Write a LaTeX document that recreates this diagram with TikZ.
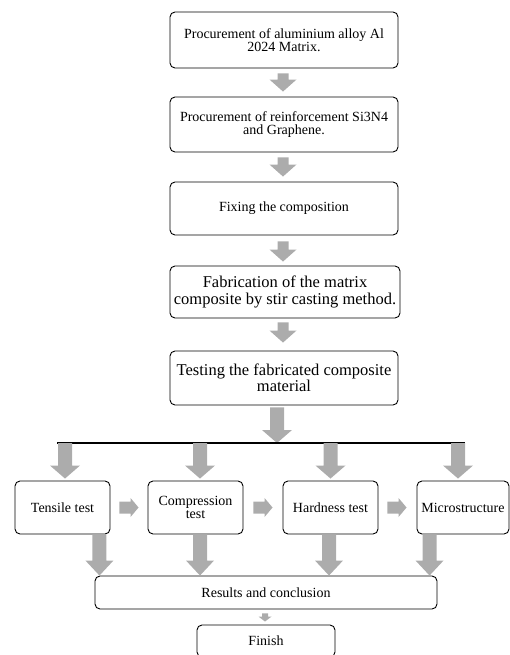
\documentclass[tikz,border=0pt]{standalone}
\usepackage{fontspec}
\setmainfont{Liberation Serif}
\usetikzlibrary{calc}
\definecolor{arrfill}{RGB}{172,172,172}
\newcommand\varr[5]{\fill[arrfill] let \p1=#1, \p2=#2 in
  (\x1-#3pt,\y1) -- (\x1+#3pt,\y1) -- (\x1+#3pt,\y2+#5pt) -- (\x1+#4pt,\y2+#5pt)
  -- (\x1,\y2) -- (\x1-#4pt,\y2+#5pt) -- (\x1-#3pt,\y2+#5pt) -- cycle;}
\newcommand\harr[5]{\fill[arrfill] let \p1=#1, \p2=#2 in
  (\x1,\y1+#3pt) -- (\x1,\y1-#3pt) -- (\x2-#5pt,\y1-#3pt) -- (\x2-#5pt,\y1-#4pt)
  -- (\x2,\y1) -- (\x2-#5pt,\y1+#4pt) -- (\x2-#5pt,\y1+#3pt) -- cycle;}
\begin{document}
\begin{tikzpicture}[x=1pt,y=-1pt,
  box/.style={draw, rounded corners=5pt, line width=0.9pt, align=center, inner sep=0pt},
  small/.style={font=\fontsize{14}{13.5}\selectfont},
  big/.style={font=\fontsize{16.5}{16.5}\selectfont}]
\useasboundingbox (0,0) rectangle (510,655);
\clip (0,0) rectangle (510,655);
\node[box,small,minimum width=228,minimum height=56] (b1) at (284,40) {Procurement of aluminium alloy Al\\2024 Matrix.};
\node[box,small,minimum width=228,minimum height=55] (b2) at (284,124.5) {Procurement of reinforcement Si3N4\\and Graphene.};
\node[box,small,minimum width=228,minimum height=53] (b3) at (284,208.5) {Fixing the composition};
\node[box,big,minimum width=230,minimum height=52] (b4) at (285,292) {Fabrication of the matrix\\composite by stir casting method.};
\node[box,big,minimum width=228,minimum height=54] (b5) at (284,378) {Testing the fabricated composite\\material};
\coordinate (hl1) at (57,443);
\coordinate (hl2) at (465,443);
\node[box,small,minimum width=95,minimum height=53] (t) at (62.5,507.5) {Tensile test};
\node[box,small,minimum width=95,minimum height=53] (c) at (195.5,507.5) {Compression\\test};
\node[box,small,minimum width=95,minimum height=53] (h) at (330.5,507.5) {Hardness test};
\node[box,small,minimum width=92,minimum height=53] (m) at (463,507.5) {Microstructure};
\node[box,small,minimum width=342,minimum height=33] (res) at (266,592.5) {Results and conclusion};
\node[box,small,minimum width=138,minimum height=32] (fin) at (266,641) {Finish};
% top chain
\varr{($(b1.south)+(-1,5)$)}{($(b2.north)+(0,-5)$)}{5.5}{13.5}{12}
\varr{($(b2.south)+(-1,5)$)}{($(b3.north)+(0,-5)$)}{5.5}{13.5}{12}
\varr{($(b3.south)+(-1,6)$)}{($(b4.north)+(0,-4)$)}{5.5}{13.5}{12}
\varr{($(b4.south)+(-2,4)$)}{($(b5.north)+(0,-8)$)}{5.5}{13.5}{12}
\varr{($(b5.south)+(-7,2)$)}{(hl1)}{7}{15}{13}
\draw[line width=1.5pt] (hl1) -- (hl2);
% fan
\coordinate (ft) at ($(t.north)+(2.5,0)$);
\coordinate (fc) at ($(c.north)+(4.5,0)$);
\coordinate (fh) at (h.north);
\coordinate (fm) at ($(m.north)+(-5,0)$);
\varr{(ft |- hl1)}{($(t.north)+(0,-2)$)}{7}{15}{13}
\varr{(fc |- hl1)}{($(c.north)+(0,-2)$)}{7}{15}{13}
\varr{(fh |- hl1)}{($(h.north)+(0,-2)$)}{7}{15}{13}
\varr{(fm |- hl1)}{($(m.north)+(0,-2)$)}{7}{15}{13}
% horizontal
\harr{($(t.east)+(9,0)$)}{($(c.west)+(-9,0)$)}{6}{9.5}{8}
\harr{($(c.east)+(10,0)$)}{($(h.west)+(-10,0)$)}{6}{9.5}{8}
\harr{($(h.east)+(9,0)$)}{($(m.west)+(-10,0)$)}{6}{9.5}{8}
% down to results
\varr{($(t.south east)+(-11,0)$)}{(res.north)}{7}{14}{15}
\varr{($(c.south)+(4.5,0)$)}{(res.north)}{7}{14}{15}
\varr{($(h.south)+(-1.5,0)$)}{(res.north)}{7}{14}{15}
\varr{($(m.south west)+(13,0)$)}{(res.north)}{7}{14}{15}
% to finish
\varr{($(res.south)+(-1,4)$)}{($(fin.north)+(0,-3)$)}{3}{6.5}{5}
\end{tikzpicture}
\end{document}
